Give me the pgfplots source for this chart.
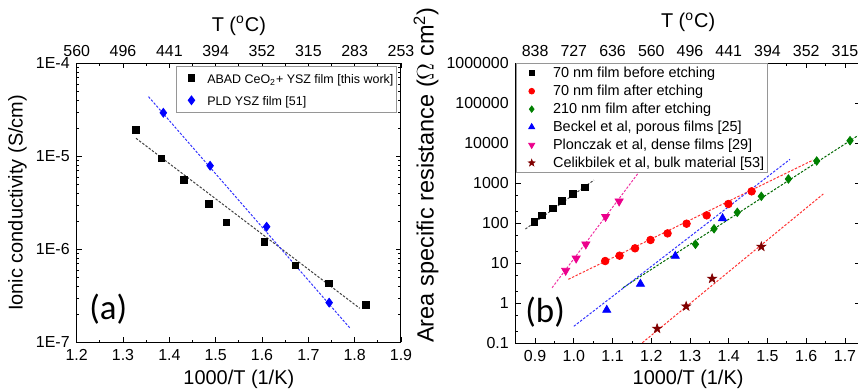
\documentclass[border=0pt]{standalone}
\usepackage{fontspec}
\setmainfont{Liberation Sans}
\newfontfamily\carlito{Carlito}
\usepackage{pgfplots}
\pgfplotsset{compat=1.18}
\definecolor{mygreen}{RGB}{0,128,0}
\definecolor{mybrown}{RGB}{128,0,0}
\definecolor{legframe}{RGB}{150,150,150}
\pgfdeclareplotmark{fstar}{%
  \pgfpathmoveto{\pgfpointpolar{90}{\pgfplotmarksize}}%
  \pgfpathlineto{\pgfpointpolar{126}{0.4\pgfplotmarksize}}%
  \pgfpathlineto{\pgfpointpolar{162}{\pgfplotmarksize}}%
  \pgfpathlineto{\pgfpointpolar{198}{0.4\pgfplotmarksize}}%
  \pgfpathlineto{\pgfpointpolar{234}{\pgfplotmarksize}}%
  \pgfpathlineto{\pgfpointpolar{270}{0.4\pgfplotmarksize}}%
  \pgfpathlineto{\pgfpointpolar{306}{\pgfplotmarksize}}%
  \pgfpathlineto{\pgfpointpolar{342}{0.4\pgfplotmarksize}}%
  \pgfpathlineto{\pgfpointpolar{18}{\pgfplotmarksize}}%
  \pgfpathlineto{\pgfpointpolar{54}{0.4\pgfplotmarksize}}%
  \pgfpathclose\pgfusepathqfillstroke}
\begin{document}
\begin{tikzpicture}
\useasboundingbox (0,0) rectangle (429bp,196bp);
\pgfplotsset{
  every axis/.append style={scale only axis, tick align=inside,
    major tick length=2.5bp, minor tick length=1.3bp,
    every tick/.style={black, line width=0.4bp},
    axis line style={line width=0.5bp},
    tick label style={font=\fontsize{8}{9.6}\selectfont},
    label style={font=\fontsize{10}{12}\selectfont},
    /pgf/number format/assume math mode=true},
  fitline/.style={line width=0.5bp, dash pattern=on 1.2bp off 0.8bp, forget plot},
}
%================ LEFT PANEL ================
\begin{axis}[at={(38.35bp,24.85bp)}, anchor=south west, width=162.15bp, height=139.5bp,
  xmin=1.2, xmax=1.9, ymode=log, ymin=1e-7, ymax=1e-4,
  xtick={1.2,1.3,1.4,1.5,1.6,1.7,1.8,1.9},
  xticklabels={1.2,1.3,1.4,1.5,1.6,1.7,1.8,1.9},
  minor x tick num=1, xticklabel pos=lower,
  ytick={1e-7,1e-6,1e-5,1e-4}, yticklabels={1E-7,1E-6,1E-5,1E-4},
  minor ytick={2e-7,3e-7,4e-7,5e-7,6e-7,7e-7,8e-7,9e-7,2e-6,3e-6,4e-6,5e-6,6e-6,7e-6,8e-6,9e-6,2e-5,3e-5,4e-5,5e-5,6e-5,7e-5,8e-5,9e-5},
  xlabel={1000/T (1/K)}, ylabel={Ionic conductivity (S/cm)},
  xlabel style={at={(axis description cs:0.5,-0.1315)}, anchor=center},
  ylabel style={at={(axis description cs:-0.1825,0.5)}, anchor=center},
  legend style={at={(0.987,0.991)}, anchor=north east, draw=legframe, line width=0.4bp,
    font=\fontsize{6.25}{7.5}\selectfont, inner xsep=0.5pt, inner ysep=0.3pt,
    nodes={inner sep=1pt, text height=0.72em, text depth=0.2em}},
  legend cell align=left,
  legend image code/.code={\path[draw=none,fill=none] (0bp,0bp) -- (14bp,0bp); \draw[#1] plot coordinates {(7.1bp,0bp)};},
]
\addplot[only marks, mark=square*, mark size=1.7bp, black] coordinates {
 (1.328,1.93e-5) (1.383,9.5e-6) (1.432,5.56e-6) (1.486,3.05e-6) (1.523,1.95e-6)
 (1.605,1.21e-6) (1.672,6.73e-7) (1.745,4.31e-7) (1.825,2.54e-7)};
\addlegendentry{ABAD CeO\textsubscript{2}+ YSZ film [this work]}
\addplot[only marks, mark=diamond*, mark size=2.2bp, blue] coordinates {
 (1.387,2.94e-5) (1.488,7.92e-6) (1.610,1.75e-6) (1.745,2.67e-7)};
\addlegendentry{PLD YSZ film [51]}
\addplot[fitline, black!75] coordinates {(1.328,1.563e-5) (1.811,2.32e-7)};
\addplot[fitline, blue!80] coordinates {(1.355,4.38e-5) (1.790,1.42e-7)};
\node[font=\carlito\fontsize{17.5}{20}\selectfont, anchor=center] at (axis cs:1.268,2.28e-7) {(a)};
\end{axis}
\begin{axis}[at={(38.35bp,24.85bp)}, anchor=south west, width=162.15bp, height=139.5bp,
  xmin=1.2, xmax=1.9, ymin=0, ymax=1,
  axis x line*=top, axis y line=none, axis line style={draw=none},
  xtick={1.2,1.3,1.4,1.5,1.6,1.7,1.8,1.9},
  xticklabels={560,496,441,394,352,315,283,253},
  major tick length=0pt, minor tick length=0pt,
  xlabel={T (\textsuperscript{o}C)},
  xlabel style={at={(axis description cs:0.5,1.134)}, anchor=center},
]
\end{axis}
%================ RIGHT PANEL ================
\begin{axis}[at={(257.85bp,24.35bp)}, anchor=south west, width=172.4bp, height=140bp,
  xmin=0.85, xmax=1.74, ymode=log, ymin=0.1, ymax=1e6,
  xtick={0.9,1.0,1.1,1.2,1.3,1.4,1.5,1.6,1.7},
  xticklabels={0.9,1.0,1.1,1.2,1.3,1.4,1.5,1.6,1.7},
  minor x tick num=1, xticklabel pos=lower,
  ytick={0.1,1,10,100,1000,10000,100000,1000000},
  yticklabels={0.1,1,10,100,1000,10000,100000,1000000},
  minor ytick={0.2,0.5,2,5,20,50,200,500,2000,5000,20000,50000,200000,500000},
  xlabel={1000/T (1/K)}, ylabel={Area specific resistance ($\Omega$ cm\textsuperscript{2})},
  xlabel style={at={(axis description cs:0.5,-0.1275)}, anchor=center},
  ylabel style={at={(axis description cs:-0.26,0.601)}, anchor=center, font=\fontsize{11.8}{14}\selectfont},
  legend style={at={(0,1)}, anchor=north west, draw=legframe, line width=0.4bp, fill=white,
    font=\fontsize{7.25}{8.7}\selectfont, inner xsep=0.5pt, inner ysep=0.3pt,
    nodes={inner sep=1pt, text height=0.58em, text depth=0.12em}},
  legend cell align=left,
  legend image code/.code={\path[draw=none,fill=none] (0bp,0bp) -- (17bp,0bp); \draw[#1, every mark/.append style={scale=0.75}] plot coordinates {(7.3bp,0bp)};},
]
\addplot[only marks, mark=square*, mark size=1.7bp, black] coordinates {
 (0.898,108) (0.918,158) (0.946,237) (0.969,361) (0.998,540) (1.029,794)};
\addlegendentry{70 nm film before etching}
\addplot[only marks, mark=*, mark size=1.9bp, red] coordinates {
 (1.081,11.4) (1.118,15.5) (1.158,23.7) (1.198,38.3) (1.242,56) (1.291,97.7)
 (1.343,158) (1.399,304) (1.459,630)};
\addlegendentry{70 nm film after etching}
\addplot[only marks, mark=diamond*, mark size=2.1bp, mygreen] coordinates {
 (1.314,29.9) (1.362,73) (1.422,188) (1.484,473) (1.554,1280) (1.627,3610) (1.713,11600)};
\addlegendentry{210 nm film after etching}
\addplot[only marks, mark=triangle*, mark size=2.3bp, blue] coordinates {
 (1.085,0.68) (1.172,3.04) (1.262,15.2) (1.384,133)};
\addlegendentry{Beckel et al, porous films [25]}
\addplot[only marks, mark=triangle*, every mark/.append style={rotate=180}, mark size=2.3bp, magenta] coordinates {
 (0.979,6.56) (1.006,13.3) (1.031,29.9) (1.082,146) (1.117,355)};
\addlegendentry{Plonczak et al, dense films [29]}
\addplot[only marks, mark=fstar, mark size=2.4bp, mybrown, line width=0.3bp] coordinates {
 (1.215,0.233) (1.29,0.84) (1.357,4.14) (1.484,26.1)};
\addlegendentry{Celikbilek et al, bulk material [53]}
\addplot[fitline, black!70] coordinates {(0.875,71.9) (1.052,1202)};
\addplot[fitline, magenta!80] coordinates {(0.944,2.45) (1.167,1841)};
\addplot[fitline, red!80] coordinates {(0.986,3.98) (1.618,3828)};
\addplot[fitline, mygreen!80!black] coordinates {(1.127,2.45) (1.76,22900)};
\addplot[fitline, blue!80] coordinates {(1.0,0.266) (1.558,3981)};
\addplot[fitline, red!80] coordinates {(1.177,0.1035) (1.644,541)};
\node[font=\carlito\fontsize{17.5}{20}\selectfont, anchor=center] at (axis cs:0.926,0.6) {(b)};
\end{axis}
\begin{axis}[at={(257.85bp,24.35bp)}, anchor=south west, width=172.4bp, height=140bp,
  xmin=0.85, xmax=1.74, ymin=0, ymax=1,
  axis x line*=top, axis y line=none, axis line style={draw=none},
  xtick={0.9,1.0,1.1,1.2,1.3,1.4,1.5,1.6,1.7},
  xticklabels={838,727,636,560,496,441,394,352,315},
  major tick length=0pt, minor tick length=0pt,
  xlabel={T (\textsuperscript{o}C)},
  xlabel style={at={(axis description cs:0.5,1.1475)}, anchor=center},
]
\end{axis}
\end{tikzpicture}
\end{document}
